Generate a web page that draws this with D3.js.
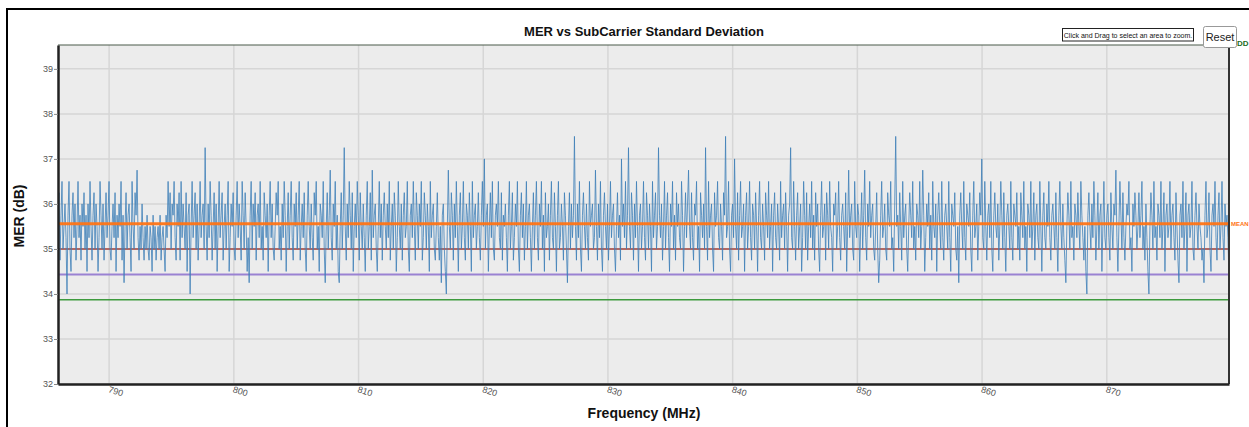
<!DOCTYPE html>
<html><head><meta charset="utf-8">
<script src="https://cdn.jsdelivr.net/npm/d3@7"></script>
<style>
body{margin:0;background:#fff;overflow:hidden;font-family:"Liberation Sans",Arial,sans-serif;}
svg{display:block;}
</style></head><body>
<svg id="chart" width="1249" height="427"></svg>
<script>
// ---------- data ----------
const title = "MER vs SubCarrier Standard Deviation";
const xTitle = "Frequency (MHz)";
const yTitle = "MER (dB)";
const freqStart = 785.9;   // MHz, first sample
const freqEnd = 879.8;     // MHz, last sample
const xTicks = [790, 800, 810, 820, 830, 840, 850, 860, 870];
const yTicks = [32, 33, 34, 35, 36, 37, 38, 39];
const refNames = ["MEAN", "", "", ""];
const refValues = [35.56, 35.0, 34.43, 33.87];
const merValues = [
35.5,36.25,34.75,35.75,36.5,35,35.5,36,35.25,34,35.75,36.5,35,34.5,35.75,36.25,35.25,36,34.75,35.5,36.5,35.25,35.75,34.75,36,35.5,36.25,35,35.75,34.5,
36,35.25,36.5,35.5,34.75,35.75,36.25,35,36,35.5,34.5,35.25,36.5,35.75,35,36,34.75,35.5,36.25,35.25,35.75,36.5,35,34.75,35.5,36,35.25,36.25,34.5,35.75,
35.25,36,35.5,36.5,34.75,35.75,34.25,35.5,36.25,35,35.75,36,35.25,34.5,36.5,35.5,35,36.25,35.75,36.75,35.25,34.75,35.5,35,36,35.25,34.75,35.5,35,35.75,
35,34.75,35.5,35.25,34.5,35.75,35,35.5,34.75,35.25,35.5,35,35.75,34.75,35.25,35.5,35,34.5,35.75,35.25,36.5,35.5,36.25,35,36,35.75,36.5,35.25,34.75,36,
35.5,36.25,34.75,36.5,35.25,36,35.5,35,36.25,34.5,35.75,36,34,35.5,36.5,35.25,35.75,36.25,35,36,34.75,35.5,36.5,35.25,35.75,36,35,37.25,35.5,34.75,
36,35.25,36.5,35.75,34.75,35.5,36.25,35,36,34.5,35.5,36.5,35.25,35.75,36.25,34.75,35.5,36,35,35.75,36.5,34.5,35.25,36,35.5,36.25,35,34.75,35.75,36.5,
35.25,36,35.5,34.75,36.5,35.75,35,36.25,35.5,34.5,35.25,34.25,35.75,36.5,35,36,35.5,36.25,34.75,35.75,36,35.25,36.5,35,35.5,34.75,36.25,35.75,35.25,36,
34.5,35.75,36.5,35.25,36,35,34.75,35.5,36.25,35.75,36.5,35,35.5,34.75,36,35.25,36.5,35.75,34.5,35.5,36.25,35,35.75,36.5,35.25,34.75,36,35.5,36.25,35,
35.75,36.5,34.75,35.5,36,35.25,36.25,35,34.5,35.75,36.5,35.5,35,36,35.25,34.75,36.25,35.75,36.5,35,35.5,34.5,36,35.75,35.25,36.5,35,34.25,35.5,36.25,
35,35.75,36.75,35.25,34.75,36,35.5,36.5,35,35.75,34.5,34.25,35.5,36.25,35,35.75,37.25,35.5,34.75,36,35.25,36.5,35.75,35,36.25,34.5,35.5,36,35.25,36.5,
35.75,34.75,36.25,35.5,35,36,35.25,34.5,35.75,36.5,35,35.5,36.25,34.75,36.75,35.25,35.75,36,35,34.5,35.5,36.5,35.25,36,34.75,35.75,36.25,35.5,35,36,
35.25,36.5,34.75,35.5,36,35,36.25,35.75,34.5,35.25,36.5,35.5,35,36,34.75,35.75,36.25,35.25,35.5,36.5,35,34.5,35.75,36,35.25,36.5,35.5,34.75,36.25,35.75,
35,36,35.5,36.5,34.75,35.25,36.25,35.75,35,36,35.5,34.5,36.5,35.25,35.75,36,35,34.75,35.5,36.25,35.25,34.75,35.5,34.25,35.75,36,35,34.5,34,35.5,
36.75,35.5,35,36.25,35.75,34.75,36,35.25,36.5,35.5,34.5,35.75,36.25,35,35.5,36.5,35.25,34.75,36,35.75,35,36.25,35.5,34.5,36.5,35.25,35.75,36,35,35.5,
36.25,35.25,34.75,35.75,36.5,35.5,37,35,35.75,36,34.5,35.5,36.25,35.25,36.5,35,34.75,35.75,36,35.5,36.5,35.25,35,36.25,34.75,35.75,35.5,36,35.25,34.5,
35.75,36.5,35,35.5,36.25,34.75,35.25,36,35.5,36.5,35,34.5,35.75,36.25,35.25,36,34.75,35.5,36.5,35,35.75,36,35.25,34.5,35.5,36.25,35,35.75,36.5,35.25,
34.75,36,35.5,36.5,35,35.75,34.5,36.25,35.25,35.5,36,34.75,35.75,36.5,35.25,35,36.25,35.5,34.5,35.75,36.5,35,35.25,36,35.5,34.75,36.25,35.75,35,34.25,
35.5,36.25,35,36,35.25,35.75,37.5,35.5,34.75,36,35.25,36.5,35,34.5,35.75,36.25,35.5,35,36,35.25,34.75,36.5,35.5,35.75,36,35,35.25,36.75,35.5,34.75,
36,35.25,36.5,35,34.5,35.75,36.25,35.5,35,36,34.75,35.5,36.5,35.25,35.75,36,35,34.5,35.5,36.25,35.25,35.75,34.75,37,35.5,36,35.25,36.5,35,35.75,
37.25,35.5,35,36.25,35.75,34.75,36,35.25,36.5,35.5,34.5,35.75,36,35,35.5,36.5,35.25,34.75,36.25,35.75,35,36,35.5,34.5,36.5,35.25,35.75,36.25,35,35.5,
37.25,35.75,35.25,36,34.75,35.5,36.5,35,35.75,36.25,35.25,34.5,36,35.5,36.5,35,35.75,34.75,36.25,35.5,36,35.25,35,36.5,35.75,34.5,35.5,36.25,35.25,36,
36.75,35.5,35,36.25,35.25,34.75,36,35.75,36.5,35,35.5,34.5,36.25,35.75,35.25,36,35,37.25,35.5,34.75,36.5,35.25,35.75,36,35,34.5,36.25,35.5,35.75,36.5,
35.25,35,36,35.5,34.75,36.25,35.75,37.5,35.25,35.5,36.5,35,34.5,35.75,36,35.25,37,35.5,35,36.25,34.75,35.75,36.5,35.25,35.5,36,34.5,35.75,36.25,35,
35.5,36.5,35.25,34.75,36,35.75,35,36.25,35.5,34.5,35.75,36.5,35.25,35,36,35.5,34.75,36.25,35.75,35.25,36.5,35,35.5,36,34.5,35.75,36.25,35.25,35,36,
35.5,34.75,36.5,35.25,35.75,36,35,36.25,35.5,34.5,35.75,36,37.25,35.25,35,36.5,35.5,34.75,35.75,36.25,35,35.5,36,34.5,35.25,36.5,35.75,35,36.25,34.75,
35.5,36,35.25,36.5,35,35.75,34.75,36.25,35.5,36,35,34.5,35.75,36.5,35.25,35.5,36,34.75,36.25,35.75,35,36.5,35.5,35.25,34.5,36,35.75,36.25,35,35.5,
36.5,35.25,34.75,35.75,36,35.5,35,36.25,34.5,35.5,36.75,35.25,35.75,36,35,34.75,36.5,35.5,35.25,36,35.75,34.5,35.5,36.25,35,35.75,36.75,35.25,34.75,36,
35.5,36.5,35.25,35.75,36,35,34.75,35.5,36.25,35,34.25,34.75,35.75,36.5,35.25,35.5,36,35,34.75,36.25,35.75,35.5,36.5,35,35.25,34.5,36,37.5,35.5,35.75,
35,36.25,35.5,34.75,36.5,35.25,35.75,36,35,34.5,35.5,36.25,35.75,35.25,36.5,35,35.5,34.75,36,35.75,35.25,36.5,35,35.5,36.75,35.75,34.5,35.25,36,35.5,
36.25,35,35.75,34.75,36.5,35.5,35.25,36,34.5,35.75,36.25,35.5,35,36.5,35.25,34.75,35.75,36,35.5,35,36.5,35.25,34.5,36,35.75,35.5,36.25,35,34.75,35.5,
34.25,35.75,36.25,35.5,35,36.5,35.25,34.75,36,35.75,35.5,36.25,35,34.5,35.75,36.5,35.25,35.5,36,34.75,35.5,36.25,35.75,37,35.25,35,36.5,35.5,34.75,35.75,
36,35.25,36.5,35,34.5,35.75,36.25,35.5,35.25,36,34.75,35.5,36.5,35.75,35,36.25,35.25,34.5,35.75,36,35.5,35,36.5,35.25,34.75,36,35.75,35.5,36.25,35,
35.5,34.75,36.25,35.75,35.25,36.5,35,35.5,34.5,36,35.75,35.25,36.5,35,35.5,36.25,34.75,35.75,36,35.25,35,36.5,35.5,34.5,35.75,36.25,35.25,35,36,35.5,
36.5,35.25,34.75,35.75,36,35.5,35,36.25,35.25,34.5,35.75,36.5,35.5,35,36,35.25,34.75,34.25,35.5,36.25,35.75,35,36.5,35.25,35.5,34.75,36,35.75,35.25,36.25,
35.5,35,36.5,35.75,35.25,34.75,35.5,34.5,34,35.75,36.25,35.5,35,36,35.25,36.5,35.75,34.75,35.5,36.25,35,35.75,36,34.5,35.5,36.5,35.25,35,35.75,36,
35.25,34.75,36.25,35.5,35,36,35.75,36.75,35.25,34.5,35.5,36.5,35.75,35,36.25,35.25,34.75,35.5,36,35.75,36.5,35,35.25,34.5,36,35.5,36.25,35.75,35,35.5,
36.25,35.25,35.75,36.5,35,35.5,34.75,36,35.25,34.5,34,35.5,36.25,35.75,35,36.5,35.25,35.5,34.75,36,35.75,35.25,36.5,35,35.5,36.25,34.5,35.75,36,35.25,
35.5,36.5,35,35.75,36,35.25,34.75,36.25,35.5,34.75,34.25,35.75,36,35.25,36.5,35,35.5,36.25,34.5,35.75,36,35.25,35.5,36.5,35,34.75,35.75,36.25,35.5,35,
36,35.5,35.25,34.75,35,34.25,35.75,36.5,35.25,35.5,36.25,35,34.5,35.75,36,35.5,36.5,35.25,34.75,35.75,36.25,35,35.5,36.5,35.25,34.75,36,35.5,35.75,35.25,
34.25
];

// ---------- layout ----------
const L = 58, R = 1229, T = 45, B = 384;
const svg = d3.select("#chart");

// outer frame
svg.append("rect").attr("x", 7).attr("y", 9).attr("width", 1400).attr("height", 600)
  .attr("fill", "#fff").attr("stroke", "#000").attr("stroke-width", 2);

const x = d3.scaleLinear().domain([freqStart, freqEnd]).range([L, R]);
const y = d3.scaleLinear().domain([32, 39.53]).range([B, T]);
const step = (freqEnd - freqStart) / (merValues.length - 1);
const pts = merValues.map((v, i) => ({f: freqStart + i * step, v}));

// plot background
svg.append("rect").attr("x", L).attr("y", T).attr("width", R - L).attr("height", B - T)
  .attr("fill", "#ececec");

// grid
svg.append("g").selectAll("line").data(yTicks).join("line")
  .attr("x1", L).attr("x2", R).attr("y1", d => y(d)).attr("y2", d => y(d))
  .attr("stroke", "#d6d6d6").attr("stroke-width", 1.5);
svg.append("g").selectAll("line").data(xTicks).join("line")
  .attr("x1", d => x(d)).attr("x2", d => x(d)).attr("y1", T).attr("y2", B)
  .attr("stroke", "#d6d6d6").attr("stroke-width", 1.5);

// clip
svg.append("clipPath").attr("id", "clip").append("rect")
  .attr("x", L).attr("y", T).attr("width", R - L).attr("height", B - T);

// reference lines (behind series except mean)
const refColors = ["#ff7415", "#a5433c", "#9a82d2", "#3d9a3d"];
const refWidths = [3, 1.5, 2, 1.5];
const lowerRefs = refValues.map((v, i) => ({v, i})).filter(d => d.i > 0);
svg.append("g").selectAll("line").data(lowerRefs).join("line")
  .attr("x1", L).attr("x2", R).attr("y1", d => y(d.v)).attr("y2", d => y(d.v))
  .attr("stroke", d => refColors[d.i]).attr("stroke-width", d => refWidths[d.i]);

// series
const line = d3.line().x(d => x(d.f)).y(d => y(d.v));
svg.append("path").datum(pts).attr("clip-path", "url(#clip)")
  .attr("d", line).attr("fill", "none").attr("stroke", "#3f7fb8")
  .attr("stroke-opacity", 0.8).attr("stroke-width", 1);

// mean line
svg.append("line").attr("x1", L).attr("x2", R)
  .attr("y1", y(refValues[0])).attr("y2", y(refValues[0]))
  .attr("stroke", refColors[0]).attr("stroke-width", refWidths[0]).attr("stroke-opacity", 0.95);
svg.append("text").attr("x", R + 2).attr("y", y(refValues[0]) + 2.5)
  .attr("fill", refColors[0]).attr("font-size", 6).attr("font-weight", "bold")
  .text(refNames[0]);

// plot border
svg.append("line").attr("x1", L).attr("x2", R).attr("y1", T).attr("y2", T)
  .attr("stroke", "#4a5a4a").attr("stroke-width", 1.2);
svg.append("line").attr("x1", R).attr("x2", R).attr("y1", T).attr("y2", B)
  .attr("stroke", "#333").attr("stroke-width", 2);

// axes
const yAxis = d3.axisLeft(y).tickValues(yTicks).tickSize(4).tickSizeOuter(0);
const gy = svg.append("g").attr("transform", `translate(${L},0)`).call(yAxis);
gy.select(".domain").attr("stroke", "#222").attr("stroke-width", 2.5);
gy.selectAll(".tick line").attr("stroke", "#888");
gy.selectAll(".tick text").attr("font-size", 9).attr("fill", "#555")
  .attr("font-family", "Liberation Sans, Arial, sans-serif").attr("x", -5);

const xAxis = d3.axisBottom(x).tickValues(xTicks).tickSize(0).tickSizeOuter(0);
const gx = svg.append("g").attr("transform", `translate(0,${B})`).call(xAxis);
gx.select(".domain").attr("stroke", "#222").attr("stroke-width", 2.5);
gx.selectAll(".tick text").attr("font-size", 9).attr("fill", "#555")
  .attr("font-family", "Liberation Sans, Arial, sans-serif")
  .attr("text-anchor", "start").attr("y", 0).attr("dy", 0)
  .attr("transform", "translate(-2,8) rotate(18)");

// titles
svg.append("text").attr("x", 644).attr("y", 36).attr("text-anchor", "middle")
  .attr("font-size", 13).attr("font-weight", "bold").attr("fill", "#111").text(title);
svg.append("text").attr("x", 644).attr("y", 418).attr("text-anchor", "middle")
  .attr("font-size", 14).attr("font-weight", "bold").attr("fill", "#111").text(xTitle);
svg.append("text").attr("transform", "translate(24,216) rotate(-90)").attr("text-anchor", "middle")
  .attr("font-size", 14).attr("font-weight", "bold").attr("fill", "#111").text(yTitle);

// top-right legend fragment and zoom controls
svg.append("text").attr("x", 1232).attr("y", 46).attr("fill", "#1d6b1d")
  .attr("font-size", 8).attr("font-weight", "bold").text("TDD");
svg.append("rect").attr("x", 1062.5).attr("y", 28.5).attr("width", 131).attr("height", 12.5)
  .attr("fill", "#fff").attr("stroke", "#222").attr("stroke-width", 1);
svg.append("text").attr("x", 1128).attr("y", 37.5).attr("text-anchor", "middle")
  .attr("font-size", 7).attr("fill", "#111").text("Click and Drag to select an area to zoom.");
svg.append("rect").attr("x", 1203.5).attr("y", 26.5).attr("width", 33).attr("height", 21).attr("rx", 2)
  .attr("fill", "#fff").attr("stroke", "#999").attr("stroke-width", 1);
svg.append("text").attr("x", 1220).attr("y", 41).attr("text-anchor", "middle")
  .attr("font-size", 11).attr("fill", "#222").text("Reset");
</script>
</body></html>
